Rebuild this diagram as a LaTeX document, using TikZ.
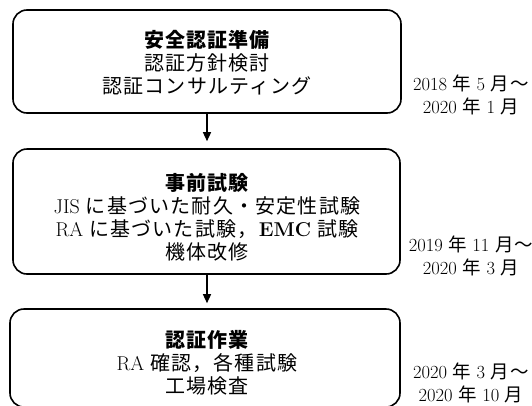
\documentclass[tikz,border=0pt]{standalone}
\usepackage{fontspec}
\usetikzlibrary{arrows.meta}
\newfontfamily\jp[LetterSpace=6]{Noto Sans CJK JP}
\tikzset{
  box/.style={draw, line width=1.6pt, rounded corners=14pt, inner sep=0pt},
  body/.style={align=center, inner sep=0pt, font=\fontsize{20}{23}\selectfont},
  datetext/.style={align=center, inner sep=0pt, font=\fontsize{18.5}{23}\selectfont},
  flow/.style={line width=1.4pt, -{Triangle[width=8pt,length=9pt]}}
}
\begin{document}
\begin{tikzpicture}[x=1pt,y=-1pt]
\useasboundingbox (0,0) rectangle (532,405);
\node[box, minimum width=388pt, minimum height=103pt] (b1) at (207,61.5) {};
\node[box, minimum width=387pt, minimum height=125pt] (b2) at (206.5,211.5) {};
\node[box, minimum width=390pt, minimum height=98pt] (b3) at (205,358) {};
\node[body] (t1) at (207,63) {{\jp\bfseries 安全認証準備}\\{\jp 認証方針検討}\\{\jp 認証コンサルティング}};
\node[body] (t2) at (207,217.5) {{\jp\bfseries 事前試験}\\JIS {\jp に基づいた耐久・安定性試験}\\RA {\jp に基づいた試験，}\textbf{EMC} {\jp 試験}\\{\jp 機体改修}};
\node[body] (t3) at (207,363) {{\jp\bfseries 認証作業}\\RA {\jp 確認，各種試験}\\{\jp 工場検査}};
\node[datetext] (d1) at (471,95) {2018 {\jp 年} 5 {\jp 月～}\\2020 {\jp 年} 1 {\jp 月}};
\node[datetext] (d2) at (471,256) {2019 {\jp 年} 11 {\jp 月～}\\2020 {\jp 年} 3 {\jp 月}};
\node[datetext] (d3) at (471,383) {2020 {\jp 年} 3 {\jp 月～}\\2020 {\jp 年} 10 {\jp 月}};
\draw[flow, shorten >=7pt] (b1.south -| t1.center) -- (b2.north -| t1.center);
\draw[flow, shorten >=5pt] (b2.south -| t1.center) -- (b3.north -| t1.center);
\end{tikzpicture}
\end{document}
